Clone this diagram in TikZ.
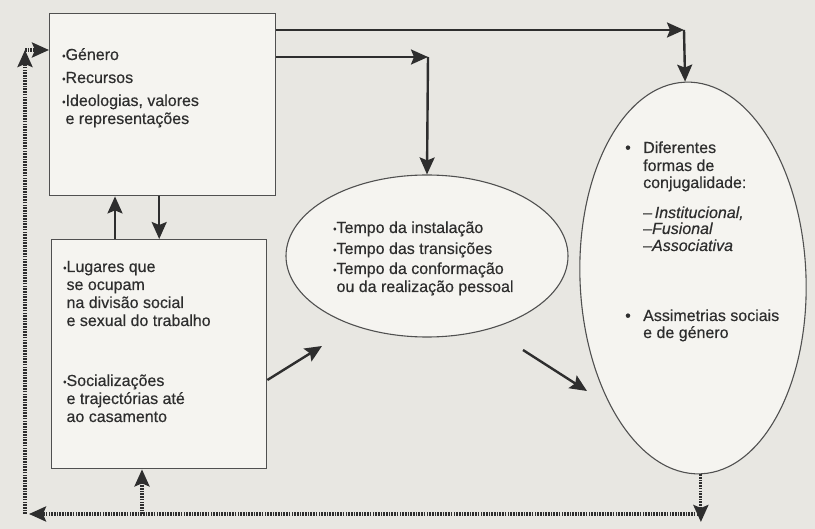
\documentclass[tikz,border=0pt]{standalone}
\usepackage{fontspec}
\setmainfont{Liberation Sans}[FakeBold=0.35]
\usetikzlibrary{arrows.meta,shapes.geometric}
\definecolor{paper}{HTML}{E8E7E2}
\definecolor{inner}{HTML}{F5F4F0}
\definecolor{ink}{HTML}{2E2E2E}
\definecolor{edge}{HTML}{505050}
\newcommand\bul{\raisebox{0.8pt}{\scalebox{0.6}{•}}}
\newcommand\bsp{\hphantom{\bul}}
\begin{document}
\begin{tikzpicture}[x=1pt,y=-1pt,
  box/.style={draw=edge,line width=1.4pt,fill=inner,anchor=north west,inner sep=0},
  oval/.style={ellipse,draw=edge,line width=1.1pt,fill=inner,inner sep=0},
  txt/.style={anchor=base west,inner sep=0,text=ink,font=\fontsize{16}{18}\selectfont},
  tip/.style={-{Stealth[length=17pt,width=15pt,inset=3pt]}},
  arr/.style={draw=ink,line width=2.4pt,tip},
  dotl/.style={draw=ink,line width=3.2pt,dash pattern=on 1.6pt off 1.1pt,tip}]
\path[fill=paper] (0,0) rectangle (815,529);
\useasboundingbox (0,0) rectangle (815,529);

% shapes
\node[box,minimum width=226pt,minimum height=182pt] (B1) at (49,13) {};
\node[box,minimum width=215pt,minimum height=229pt] (B2) at (51,239) {};
\node[oval,minimum width=282pt,minimum height=162pt] (M) at (427,256) {};
\node[oval,minimum width=226pt,minimum height=392pt,rotate=2.3] (R) at (693,278) {};

% box 1 text
\node[txt] (t11) at (62,60) {\bul Género};
\node[txt] (t12) at (62,83) {\bul Recursos};
\node[txt] (t13) at (62,106) {\bul Ideologias, valores};
\node[txt] (t14) at (62,124) {\bsp e representações};

% box 2 text
\node[txt] (t21) at (63,272) {\bul Lugares que};
\node[txt] (t22) at (63,290) {\bsp se ocupam};
\node[txt] (t23) at (63,308) {\bsp na divisão social};
\node[txt] (t24) at (63,326) {\bsp e sexual do trabalho};
\node[txt] (t25) at (63,386) {\bul Socializações};
\node[txt] (t26) at (63,404) {\bsp e trajectórias até};
\node[txt] (t27) at (63,422) {\bsp ao casamento};

% middle ellipse text
\node[txt] (t31) at (333,233) {\bul Tempo da instalação};
\node[txt] (t32) at (333,254) {\bul Tempo das transições};
\node[txt] (t33) at (333,274) {\bul Tempo da conformação};
\node[txt] (t34) at (333,292) {\bsp ou da realização pessoal};

% right ellipse text
\node[txt] (b41) at (625,153) {•};
\node[txt] (t41) at (643,153) {Diferentes};
\node[txt] (t42) at (643,171) {formas de};
\node[txt] (t43) at (643,188) {conjugalidade:};
\node[txt] (t44) at (643,218) {–\,\textit{Institucional,}};
\node[txt] (t45) at (643,234) {–\textit{Fusional}};
\node[txt] (t46) at (643,251) {–\textit{Associativa}};
\node[txt] (b47) at (625,321) {•};
\node[txt] (t47) at (643,321) {Assimetrias sociais};
\node[txt] (t48) at (643,338) {e de género};

% helper coordinates
\coordinate (cA) at (684,30);
\coordinate (cB) at (428,57);
\coordinate (uX) at (115,0);
\coordinate (dS) at (266,380);
\coordinate (dT) at (322,346);
\coordinate (eS) at (523,350);
\coordinate (eT) at (587,391);
\coordinate (bD) at (0,522);
\coordinate (bL) at (29,514);
\coordinate (lB) at (25,514);
\coordinate (lT) at (25,50);
\coordinate (uB) at (142,514);

% solid connectors
\draw[arr] (B1.east |- cA) -- (cA);
\draw[arr] (cA) -- (R.north);
\draw[arr] (B1.east |- cB) -- (cB);
\draw[arr] (cB) -- (M.north);
\draw[arr] (B2.north -| uX) -- (B1.south -| uX);
\draw[arr] (B1.south -| B2.north) -- (B2.north);
\draw[arr] (B2.east |- dS) -- (dT);
\draw[arr] (eS) -- (eT);

% dotted connectors
\draw[dotl] (R.south) -- (R.south |- bD);
\draw[dotl] (R.south |- bL) -- (bL);
\draw[dotl] (lB) -- (lT);
\draw[dotl] (lT) -- (B1.west |- lT);
\draw[dotl] (uB) -- (B2.south -| uB);
\end{tikzpicture}
\end{document}
